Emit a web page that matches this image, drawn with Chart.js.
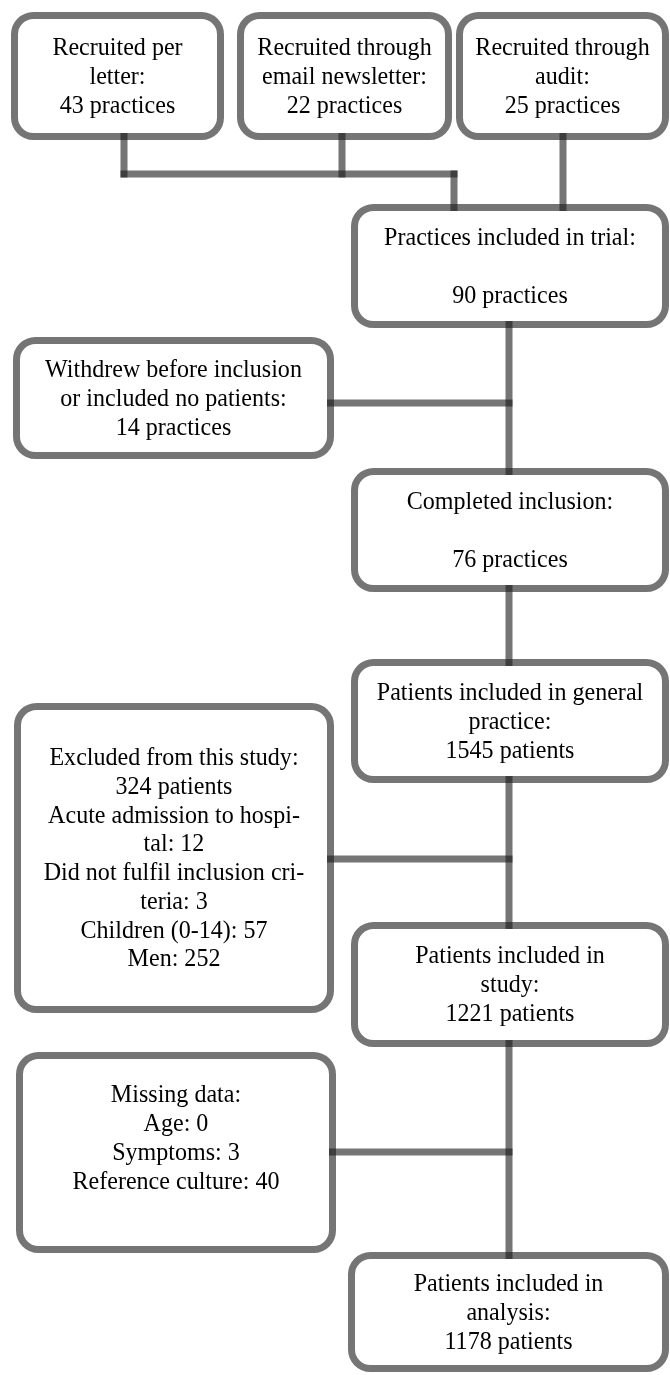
<!DOCTYPE html>
<html>
<head>
<meta charset="utf-8">
<script src="https://cdn.jsdelivr.net/npm/chart.js@4"></script>
<style>
  html, body { margin: 0; padding: 0; background: #fff; }
  canvas { display: block; }
</style>
</head>
<body>
<canvas id="flowChart" width="670" height="1375"></canvas>
<script>
// counts
const recruitLabels = [['Recruited per', 'letter:'], ['Recruited through', 'email newsletter:'], ['Recruited through', 'audit:']];
const recruitCounts = [43, 22, 25];
const practiceLabels = ['Practices included in trial:', 'Withdrew before inclusion', 'Completed inclusion:'];
const practiceCounts = [90, 14, 76];
const patientLabels = [['Patients included in general', 'practice:'], ['Excluded from this study:'], ['Patients included in', 'study:'], ['Patients included in', 'analysis:']];
const patientCounts = [1545, 324, 1221, 1178];
const exclusionReasons = [['Acute admission to hospi-', 'tal'], ['Did not fulfil inclusion cri-', 'teria'], ['Children (0-14)'], ['Men']];
const exclusionCounts = [12, 3, 57, 252];
const missingFields = ['Age', 'Symptoms', 'Reference culture'];
const missingCounts = [0, 3, 40];

const LINE_COLOR = 'rgba(25,25,25,0.6)';
const STROKE = 7;

function reasonLines(parts, n) {
    const out = parts.slice(0, -1);
    out.push(parts[parts.length - 1] + ': ' + n);
    return out;
}

const excludedLines = [patientLabels[1][0], patientCounts[1] + ' patients'];
exclusionReasons.forEach((r, i) => excludedLines.push(...reasonLines(r, exclusionCounts[i])));

const missingLines = ['Missing data:'];
missingFields.forEach((f, i) => missingLines.push(f + ': ' + missingCounts[i]));
missingLines.push('');

// box layout: outer edges in diagram units
const boxes = [
    { x0: 11, x1: 224, y0: 12, y1: 140, lines: [...recruitLabels[0], recruitCounts[0] + ' practices'] },
    { x0: 237, x1: 452, y0: 12, y1: 140, lines: [...recruitLabels[1], recruitCounts[1] + ' practices'] },
    { x0: 456, x1: 669, y0: 12, y1: 140, lines: [...recruitLabels[2], recruitCounts[2] + ' practices'] },
    { x0: 351, x1: 669, y0: 204, y1: 328, lines: [practiceLabels[0], '', practiceCounts[0] + ' practices'] },
    { x0: 13, x1: 334, y0: 337, y1: 459, lines: [practiceLabels[1], 'or included no patients:', practiceCounts[1] + ' practices'] },
    { x0: 351, x1: 669, y0: 468, y1: 592, lines: [practiceLabels[2], '', practiceCounts[2] + ' practices'] },
    { x0: 351, x1: 669, y0: 659, y1: 783, lines: [...patientLabels[0], patientCounts[0] + ' patients'] },
    { x0: 14, x1: 334, y0: 703, y1: 1013, lines: excludedLines, spacing: 28.7 },
    { x0: 351, x1: 669, y0: 922, y1: 1047, lines: [...patientLabels[2], patientCounts[2] + ' patients'] },
    { x0: 16, x1: 336, y0: 1052, y1: 1253, lines: missingLines },
    { x0: 348, x1: 669, y0: 1252, y1: 1372, lines: [...patientLabels[3], patientCounts[3] + ' patients'] }
];

// connector segments
const connectors = [
    [[124, 133], [124, 177.5]],
    [[342, 133], [342, 177.5]],
    [[120.5, 174], [457.5, 174]],
    [[454, 170.5], [454, 211]],
    [[563, 133], [563, 211]],
    [[509, 321], [509, 475]],
    [[327, 403], [512.5, 403]],
    [[509, 585], [509, 666]],
    [[509, 776], [509, 929]],
    [[327, 859], [512.5, 859]],
    [[509, 1040], [509, 1259]],
    [[329, 1152], [512.5, 1152]]
];

const boxPlugin = {
    id: 'flowBoxes',
    beforeDatasetsDraw(chart) {
        const { ctx, scales: { x, y } } = chart;
        ctx.save();
        boxes.forEach(b => {
            const h = STROKE / 2;
            const left = x.getPixelForValue(b.x0) + h;
            const right = x.getPixelForValue(b.x1) - h;
            const top = y.getPixelForValue(b.y0) + h;
            const bottom = y.getPixelForValue(b.y1) - h;
            ctx.beginPath();
            ctx.roundRect(left, top, right - left, bottom - top, 19);
            ctx.fillStyle = '#fff';
            ctx.fill();
            ctx.lineWidth = STROKE;
            ctx.strokeStyle = LINE_COLOR;
            ctx.stroke();
        });
        ctx.restore();
    },
    afterDatasetsDraw(chart) {
        const { ctx, scales: { x, y } } = chart;
        ctx.save();
        ctx.font = '26px "Liberation Serif", "Times New Roman", serif';
        ctx.fillStyle = '#000';
        ctx.textAlign = 'center';
        ctx.textBaseline = 'middle';
        boxes.forEach(b => {
            const cx = x.getPixelForValue((b.x0 + b.x1) / 2);
            const cy = y.getPixelForValue((b.y0 + b.y1) / 2);
            const sp = b.spacing || 29;
            const start = cy - sp * (b.lines.length - 1) / 2;
            b.lines.forEach((t, i) => {
                if (!t) return;
                ctx.save();
                ctx.translate(cx, start + i * sp + 1);
                ctx.scale(0.925, 1);
                ctx.fillText(t, 0, 0);
                ctx.restore();
            });
        });
        ctx.restore();
    }
};

new Chart(document.getElementById('flowChart'), {
    type: 'scatter',
    data: {
        datasets: connectors.map(seg => ({
            data: seg.map(p => ({ x: p[0], y: p[1] })),
            showLine: true,
            borderColor: LINE_COLOR,
            borderWidth: STROKE,
            borderCapStyle: 'butt',
            pointRadius: 0,
            pointHoverRadius: 0,
            clip: false
        }))
    },
    options: {
        responsive: false,
        animation: false,
        devicePixelRatio: 1,
        layout: { padding: 0 },
        events: [],
        plugins: {
            legend: { display: false },
            tooltip: { enabled: false }
        },
        scales: {
            x: { type: 'linear', min: 0, max: 670, display: false },
            y: { type: 'linear', min: 0, max: 1375, reverse: true, display: false }
        }
    },
    plugins: [boxPlugin]
});
</script>
</body>
</html>
